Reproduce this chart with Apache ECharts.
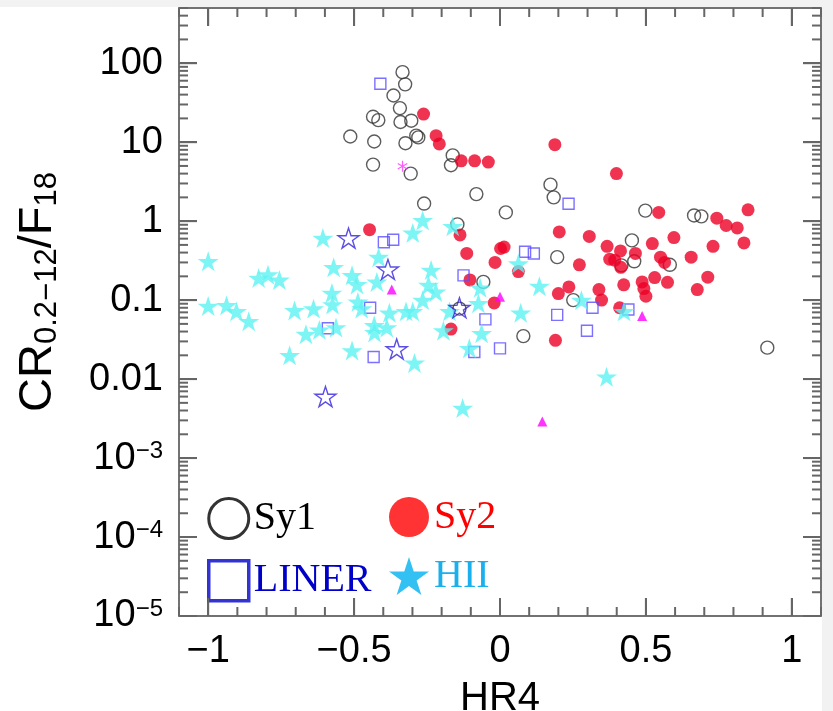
<!DOCTYPE html>
<html>
<head>
<meta charset="utf-8">
<script src="https://cdn.jsdelivr.net/npm/echarts@6/dist/echarts.min.js"></script>
<style>
html,body{margin:0;padding:0;background:#f2f2f2;}
#chart{position:absolute;left:0;top:7px;width:822px;height:704px;background:#fff;}
</style>
</head>
<body>
<div id="chart"></div>
<script>
// points: [HR4, CR/F18]
var sy1 = [[-0.334,77],[-0.325,54],[-0.365,39],[-0.343,27],[-0.435,21],[-0.417,19],[-0.341,18],[-0.304,18.7],
  [-0.513,11.8],[-0.431,10.2],[-0.324,9.7],[-0.287,12.1],[-0.280,11.5],[-0.162,6.8],[-0.168,5.1],[-0.435,5.2],
  [-0.306,4.0],[-0.081,2.2],[-0.260,1.67],[-0.146,0.91],[0.02,1.29],[0.173,2.9],[0.184,2.0],[0.498,1.36],
  [0.665,1.18],[0.69,1.15],[0.452,0.57],[0.46,0.31],[0.582,0.28],[0.416,0.275],[0.196,0.35],[-0.057,0.17],
  [0.251,0.1],[0.08,0.035],[0.916,0.025],[-0.139,0.078]];
var sy2 = [[-0.262,22.7],[-0.219,12.1],[-0.208,9.5],[-0.133,5.8],[-0.087,5.8],[-0.04,5.6],[0.188,9.3],[0.399,4.0],
  [0.544,1.29],[0.85,1.39],[0.743,1.09],[0.775,0.88],[0.813,0.82],[0.836,0.53],[0.73,0.48],[0.596,0.62],
  [0.522,0.52],[0.655,0.35],[0.712,0.195],[0.676,0.136],[0.574,0.168],[0.53,0.193],[0.5,0.112],[0.487,0.17],
  [0.493,0.14],[0.55,0.35],[0.564,0.3],[0.464,0.39],[0.413,0.42],[0.367,0.48],[0.376,0.33],[0.393,0.32],
  [0.414,0.26],[0.424,0.156],[0.306,0.64],[0.272,0.28],[0.203,0.73],[0.236,0.147],[0.2,0.121],[0.339,0.136],
  [0.348,0.10],[0.41,0.08],[0.19,0.031],[0.002,0.45],[0.014,0.47],[-0.017,0.30],[0.063,0.23],[-0.02,0.092],
  [-0.447,0.78],[-0.137,0.67],[-0.114,0.39],[-0.103,0.18],[-0.168,0.043]];
var liner = [[-0.41,55],[0.235,1.66],[-0.398,0.54],[-0.366,0.58],[-0.125,0.206],[-0.445,0.08],[-0.59,0.044],
  [-0.433,0.019],[-0.05,0.057],[-0.088,0.022],[0,0.0245],[0.086,0.41],[0.116,0.39],[0.196,0.065],[0.317,0.08],
  [0.298,0.041],[0.44,0.076]];
var hii = [[-1.0,0.31],[-1.0,0.084],[-0.937,0.086],[-0.903,0.072],[-0.861,0.054],[-0.827,0.19],[-0.795,0.21],
  [-0.756,0.18],[-0.704,0.074],[-0.721,0.02],[-0.639,0.078],[-0.665,0.037],[-0.619,0.042],[-0.607,0.61],
  [-0.57,0.26],[-0.576,0.123],[-0.574,0.088],[-0.562,0.045],[-0.507,0.206],[-0.49,0.158],[-0.507,0.023],
  [-0.487,0.095],[-0.474,0.078],[-0.431,0.048],[-0.43,0.039],[-0.422,0.17],[-0.416,0.35],[-0.388,0.045],
  [-0.379,0.069],[-0.322,0.072],[-0.299,0.072],[-0.293,0.016],[-0.299,0.71],[-0.265,1.02],[-0.236,0.24],
  [-0.245,0.155],[-0.22,0.127],[-0.265,0.1],[-0.162,0.86],[-0.173,0.072],[-0.194,0.041],[-0.105,0.0245],
  [-0.068,0.143],[-0.074,0.091],[-0.063,0.038],[-0.128,0.0043],[0.063,0.29],[0.135,0.15],[0.071,0.069],
  [0.279,0.1],[0.425,0.072],[0.365,0.0107]];
var hiiOpen = [[-0.519,0.61],[-0.384,0.245],[-0.139,0.08],[-0.354,0.024],[-0.598,0.006]];
var other = [[-0.371,0.136],[0,0.11],[0.487,0.063],[0.145,0.0029]];
var odd = [[-0.334,4.95]];

var xMin = -1.1, xMax = 1.1, yMin = 1e-5, yMax = 500;
var xTickVals = [-1, -0.5, 0, 0.5, 1];
var xTickText = ['\u22121', '\u22120.5', '0', '0.5', '1'];
var xMinorVals = [];
for (var i = -11; i <= 11; i++) { if (i % 5 !== 0) xMinorVals.push(i / 10); }
var yTickVals = [1e-5, 1e-4, 1e-3, 0.01, 0.1, 1, 10, 100];
var yTickText = ['{b|10}{s|\u22125}', '{b|10}{s|\u22124}', '{b|10}{s|\u22123}', '0.01', '0.1', '1', '10', '100'];
var yMinorVals = [];
for (var ex = -5; ex <= 2; ex++) {
  for (var mm = 2; mm <= 9; mm++) {
    var tv = Number((mm * Math.pow(10, ex)).toPrecision(3));
    if (tv <= yMax) yMinorVals.push(tv);
  }
}

var star = 'path://M0,-100L22.45,-30.9L95.1,-30.9L36.3,11.8L58.8,80.9L0,38.2L-58.8,80.9L-36.3,11.8L-95.1,-30.9L-22.45,-30.9Z';
var asterisk = 'path://M0,-10L0,10M-8.66,-5L8.66,5M-8.66,5L8.66,-5';
var tickCol = '#666';
var frameCol = '#444';

function xLabel(v) {
  for (var k = 0; k < xTickVals.length; k++) if (Math.abs(xTickVals[k] - v) < 1e-9) return xTickText[k];
  return '';
}
function yLabel(v) {
  for (var k = 0; k < yTickVals.length; k++)
    if (Math.abs(Math.log10(yTickVals[k]) - Math.log10(v)) < 1e-6) return yTickText[k];
  return '';
}

function xAx(pos, show) {
  var ax = {
    type: 'value', min: xMin, max: xMax, position: pos,
    splitLine: { show: false },
    axisLine: { show: true, onZero: false, lineStyle: { color: frameCol, width: 1.5 } },
    axisTick: { show: true, inside: true, length: 18, customValues: xTickVals, lineStyle: { color: tickCol, width: 2 } },
    axisLabel: { show: show, customValues: xTickVals, fontSize: 38, color: '#000', margin: 17,
      fontFamily: 'Liberation Sans', formatter: xLabel }
  };
  if (show) {
    ax.name = 'HR4'; ax.nameLocation = 'middle'; ax.nameGap = 63;
    ax.nameTextStyle = { fontSize: 40, color: '#000', fontFamily: 'Liberation Sans' };
  }
  return ax;
}
function yAx(pos, show) {
  var ax = {
    type: 'log', min: yMin, max: yMax, position: pos,
    splitLine: { show: false },
    axisLine: { show: true, onZero: false, lineStyle: { color: frameCol, width: 1.5 } },
    axisTick: { show: true, inside: true, length: 18, customValues: yTickVals, lineStyle: { color: tickCol, width: 2 } },
    axisLabel: { show: show, customValues: yTickVals, fontSize: 38, color: '#000', margin: 16,
      fontFamily: 'Liberation Sans', formatter: yLabel,
      rich: { b: { fontSize: 38, fontFamily: 'Liberation Sans', color: '#000' },
              s: { fontSize: 24, fontFamily: 'Liberation Sans', color: '#000', verticalAlign: 'top' } } }
  };
  if (show) {
    ax.name = '{m|CR}{d|0.2\u221212}{m|/F}{d|18}'; ax.nameLocation = 'middle'; ax.nameGap = 116;
    ax.nameTextStyle = {
      color: '#000', fontFamily: 'Liberation Sans', padding: [0, 0, 0, 40],
      rich: { m: { fontSize: 47, lineHeight: 50, fontFamily: 'Liberation Sans', color: '#000' },
              d: { fontSize: 31, lineHeight: 12, verticalAlign: 'bottom', fontFamily: 'Liberation Sans', color: '#000' } }
    };
  }
  return ax;
}

var legendText = { fontFamily: 'Liberation Serif', fontSize: 40 };

var chart = echarts.init(document.getElementById('chart'));
chart.setOption({
  animation: false,
  grid: { left: 179, top: 1, right: 1, bottom: 95, outerBoundsMode: 'none' },
  xAxis: [xAx('bottom', true), xAx('top', false)],
  yAxis: [yAx('left', true), yAx('right', false)],
  legend: [
    { orient: 'vertical', left: 202, top: 485, itemWidth: 40, itemHeight: 40, itemGap: 19, selectedMode: false,
      textStyle: legendText,
      data: [
        { name: 'Sy1', textStyle: { color: '#000' }, itemStyle: { color: 'rgba(0,0,0,0)', borderColor: '#000', borderWidth: 3 } },
        { name: 'LINER', textStyle: { color: '#0000c8' }, itemStyle: { color: 'rgba(0,0,0,0)', borderColor: '#0000c8', borderWidth: 3.5 } }
      ] },
    { orient: 'vertical', left: 384, top: 485, itemWidth: 40, itemHeight: 40, itemGap: 19, selectedMode: false,
      textStyle: legendText,
      data: [
        { name: 'Sy2', textStyle: { color: '#ff0000' }, itemStyle: { color: '#ff0000' } },
        { name: 'HII', textStyle: { color: '#1ab0ee' }, itemStyle: { color: '#00b0f0' } }
      ] }
  ],
  series: [
    { name: 'Sy1', type: 'scatter', data: sy1, symbol: 'circle', symbolSize: 13,
      itemStyle: { color: 'rgba(0,0,0,0)', borderColor: '#333', borderWidth: 1.4 } },
    { name: 'Sy2', type: 'scatter', data: sy2, symbol: 'circle', symbolSize: 13,
      itemStyle: { color: '#ec0025' } },
    { name: 'LINER', type: 'scatter', data: liner, symbol: 'rect', symbolSize: 11,
      itemStyle: { color: 'rgba(0,0,0,0)', borderColor: '#5a4cff', borderWidth: 1.4 } },
    { name: 'HII', type: 'scatter', data: hii, symbol: star, symbolKeepAspect: true, symbolSize: 21,
      itemStyle: { color: '#5ef3f3' } },
    { name: 'HII open', type: 'scatter', data: hiiOpen, symbol: star, symbolKeepAspect: true, symbolSize: 21,
      itemStyle: { color: 'rgba(0,0,0,0)', borderColor: '#3322dd', borderWidth: 1.4 } },
    { name: 'other', type: 'scatter', data: other, symbol: 'triangle', symbolSize: 10,
      itemStyle: { color: '#ff00ff' } },
    { name: 'odd', type: 'scatter', data: odd, symbol: asterisk, symbolKeepAspect: true, symbolSize: 11,
      itemStyle: { color: 'none', borderColor: '#ff33ff', borderWidth: 1.2 } }
  ]
});

// inward ticks on all four sides, positioned with the chart's own axis scales
function tickSeg(x1, y1, x2, y2) {
  return { type: 'line', silent: true, z: 50,
    shape: { x1: x1, y1: y1, x2: x2, y2: y2 }, style: { stroke: tickCol, lineWidth: 2 } };
}
var tickEls = [];
function addXTicks(vals, len) {
  vals.forEach(function (x) {
    var b = chart.convertToPixel({ xAxisIndex: 0, yAxisIndex: 0 }, [x, yMin]);
    var t = chart.convertToPixel({ xAxisIndex: 0, yAxisIndex: 0 }, [x, yMax]);
    tickEls.push(tickSeg(b[0], b[1], b[0], b[1] - len));
    tickEls.push(tickSeg(t[0], t[1], t[0], t[1] + len));
  });
}
function addYTicks(vals, len) {
  vals.forEach(function (y) {
    var l = chart.convertToPixel({ xAxisIndex: 0, yAxisIndex: 0 }, [xMin, y]);
    var r = chart.convertToPixel({ xAxisIndex: 0, yAxisIndex: 0 }, [xMax, y]);
    tickEls.push(tickSeg(l[0], l[1], l[0] + len, l[1]));
    tickEls.push(tickSeg(r[0], r[1], r[0] - len, r[1]));
  });
}
addXTicks(xTickVals, 18);
addXTicks(xMinorVals, 9);
addYTicks(yTickVals, 18);
addYTicks(yMinorVals, 9);
chart.setOption({ graphic: [{ type: 'group', silent: true, z: 50, children: tickEls }] });
</script>
</body>
</html>
